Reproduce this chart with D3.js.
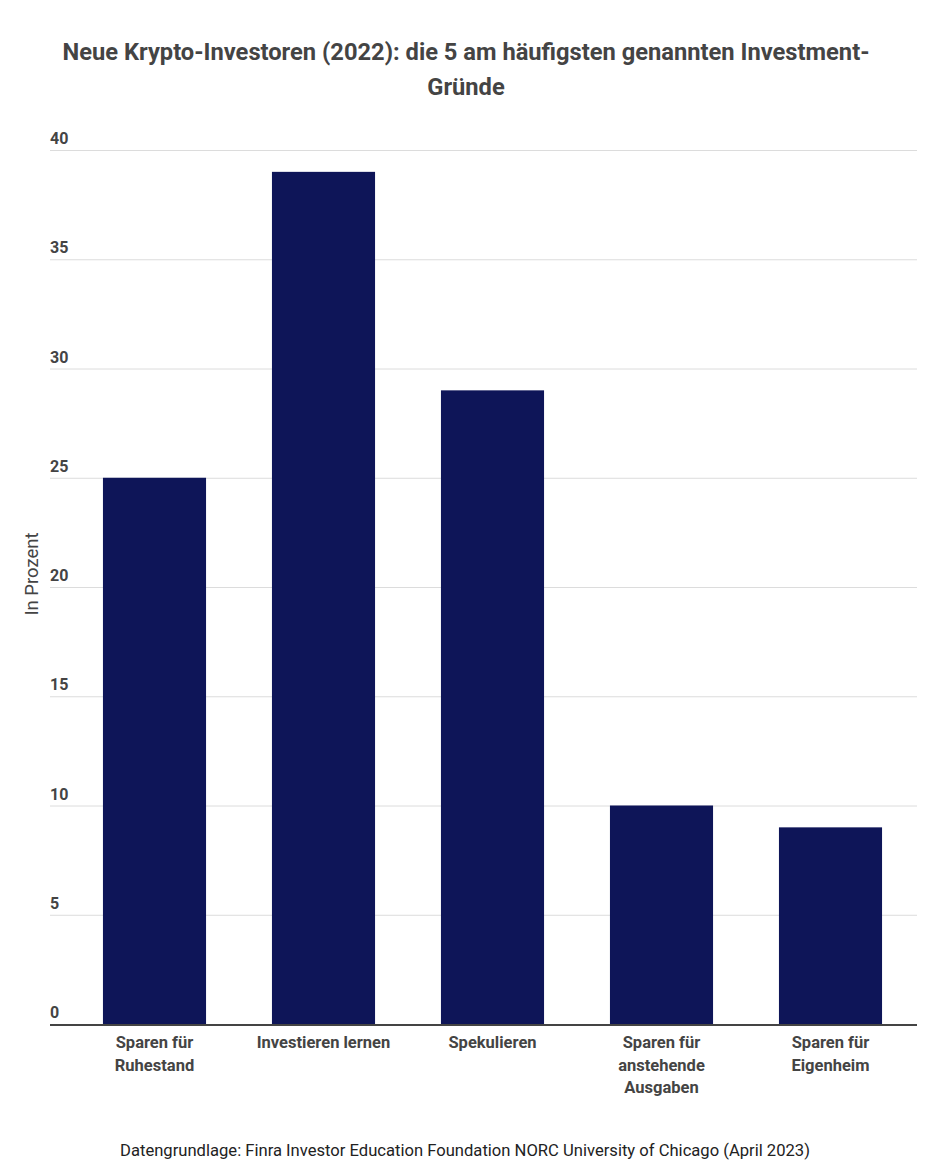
<!DOCTYPE html>
<html><head><meta charset="utf-8">
<script src="https://cdn.jsdelivr.net/npm/d3@7"></script>
<style>body{margin:0;background:#fff}svg{display:block}</style>
</head><body>
<svg id="c" width="932" height="1168"></svg>
<script>
const categories = [["Sparen für","Ruhestand"],["Investieren lernen"],["Spekulieren"],["Sparen für","anstehende","Ausgaben"],["Sparen für","Eigenheim"]];
const values = [25, 39, 29, 10, 9];
const yTicks = [0, 5, 10, 15, 20, 25, 30, 35, 40];
const titleLines = ["Neue Krypto-Investoren (2022): die 5 am häufigsten genannten Investment-", "Gründe"];
const yTitle = "In Prozent";
const source = "Datengrundlage: Finra Investor Education Foundation NORC University of Chicago (April 2023)";

const svg = d3.select("#c");
const font = "Roboto, sans-serif";
const x = d3.scaleBand().domain(d3.range(values.length)).range([70, 915]).paddingInner(0.39).paddingOuter(0.195);
const y = d3.scaleLinear().domain([0, 40]).range([1024, 150]);

svg.append("g").selectAll("text").data(titleLines).join("text")
  .attr("x", 466).attr("y", (d,i)=>60 + i*35).attr("text-anchor","middle")
  .attr("font-family", font).attr("font-weight", 700).attr("font-size", 23.7).attr("fill","#444")
  .text(d=>d);

svg.append("g").selectAll("line").data(yTicks.filter(t=>t>0)).join("line")
  .attr("x1", 50).attr("x2", 917).attr("y1", d=>y(d)+0.5).attr("y2", d=>y(d)+0.5)
  .attr("stroke", "#dcdcdc").attr("stroke-width", 1);
svg.append("g").selectAll("text").data(yTicks).join("text")
  .attr("x", 50).attr("y", d=>y(d)-6)
  .attr("font-family", font).attr("font-weight", 700).attr("font-size", 16).attr("fill","#444")
  .text(d=>d);

svg.append("g").selectAll("rect").data(values).join("rect")
  .attr("x", (d,i)=>x(i)).attr("width", x.bandwidth())
  .attr("y", d=>y(d)).attr("height", d=>y(0)-y(d))
  .attr("fill", "#0e1558");

svg.append("line").attr("x1",50).attr("x2",917).attr("y1",y(0)+1).attr("y2",y(0)+1)
  .attr("stroke","#444").attr("stroke-width",2);

const xl = svg.append("g").selectAll("text").data(categories).join("text")
  .attr("text-anchor","middle")
  .attr("font-family", font).attr("font-weight", 700).attr("font-size", 16.5).attr("fill","#444");
xl.each(function(d,i){
  d3.select(this).selectAll("tspan").data(d).join("tspan")
    .attr("x", x(i)+x.bandwidth()/2).attr("y",(t,j)=>1048+j*22.5).text(t=>t);
});

svg.append("text").attr("transform","translate(38,574) rotate(-90)")
  .attr("text-anchor","middle").attr("font-family",font).attr("font-size",18.5).attr("fill","#444")
  .text(yTitle);

svg.append("text").attr("x",465).attr("y",1156).attr("text-anchor","middle")
  .attr("font-family",font).attr("font-size",16.6).attr("fill","#222").text(source);
</script>
</body></html>
